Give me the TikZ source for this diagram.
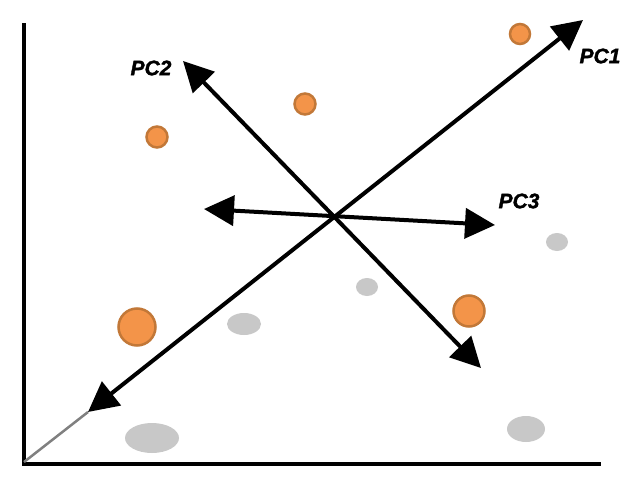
\documentclass[tikz,border=0pt]{standalone}
\usepackage{fontspec}
\setmainfont{Liberation Sans}
\newfontfamily\pcfont{Liberation Sans}[BoldItalicFeatures={FakeBold=1.6}]
\usetikzlibrary{arrows.meta}
\definecolor{dotfill}{HTML}{F39449}
\definecolor{dotedge}{HTML}{C27838}
\definecolor{blob}{HTML}{C8C8C8}
\definecolor{guide}{HTML}{808080}
\begin{document}
\begin{tikzpicture}[x=1pt,y=-1pt,
  axisline/.style={line width=4pt},
  pcarrow/.style={line width=4pt,{Triangle[length=30pt,width=30pt]}-{Triangle[length=30pt,width=30pt]}},
  pclabel/.style={font=\pcfont\fontsize{21}{21}\selectfont\bfseries\itshape},
  odot/.style={circle,fill=dotfill,draw=dotedge,line width=2.5pt,inner sep=0pt,minimum size=#1}]
\useasboundingbox (0,0) rectangle (633,479);
% axes
\coordinate (ytop) at (24,23);
\coordinate (orig) at (24,464);
\coordinate (xend) at (601,464);
\draw[axisline] (ytop) -- (orig) -- (xend);
% gray guide
\coordinate (o2) at (24,462);
\coordinate (pc1a) at (88,412);
\draw[guide,line width=2.5pt] (o2) -- (pc1a);
% dots
\node[odot=20pt] (d1) at (520,34) {};
\node[odot=21pt] (d2) at (305,104) {};
\node[odot=21pt] (d3) at (157,137) {};
\node[odot=37pt] (d4) at (137,327) {};
\node[odot=31pt] (d5) at (469,311) {};
% gray blobs
\fill[blob] (557,242) ellipse [x radius=11, y radius=9];
\fill[blob] (367,287) ellipse [x radius=11, y radius=9];
\fill[blob] (244,324) ellipse [x radius=17, y radius=11];
\fill[blob] (152,438) ellipse [x radius=27, y radius=15];
\fill[blob] (526,429) ellipse [x radius=19, y radius=13];
% PC arrows
\coordinate (pc1b) at (583,20);
\coordinate (pc2a) at (183,61);
\coordinate (pc2b) at (481,368);
\coordinate (pc3a) at (204,209);
\coordinate (pc3b) at (495,225);
\draw[pcarrow] (pc1a) -- (pc1b);
\draw[pcarrow] (pc2a) -- (pc2b);
\draw[pcarrow] (pc3a) -- (pc3b);
% labels
\node[pclabel] (l1) at (600,56) {PC1};
\node[pclabel] (l2) at (151,68) {PC2};
\node[pclabel] (l3) at (519,201) {PC3};
\end{tikzpicture}
\end{document}
